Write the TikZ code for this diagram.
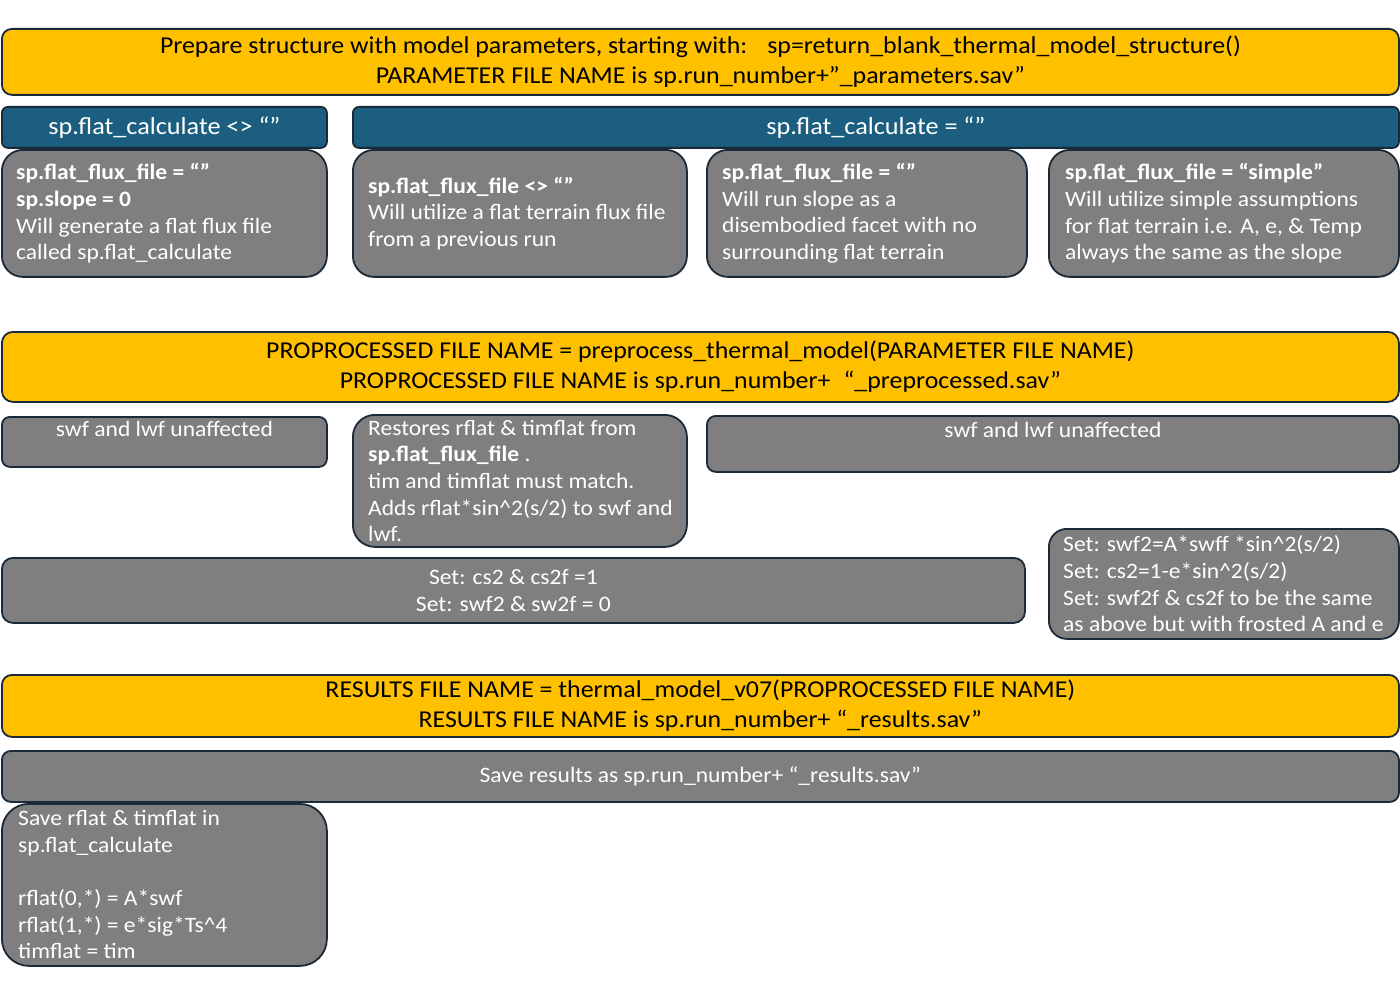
\documentclass[tikz,border=0pt]{standalone}
\usepackage{fontspec}
\setmainfont{Carlito}[FakeStretch=1.07]
\definecolor{ylw}{HTML}{FFC000}
\definecolor{blu}{HTML}{1B5E80}
\definecolor{gry}{HTML}{7F7F7F}
\definecolor{bordc}{HTML}{1A2A38}
\tikzset{
  panel/.style={draw=bordc, line width=1.8pt, rounded corners=#1, inner sep=0pt, anchor=north west},
  panel/.default=10pt,
  ybox/.style={panel=#1, fill=ylw},
  ybox/.default=10pt,
  bbox/.style={panel=6pt, fill=blu},
  gbox/.style={panel=#1, fill=gry},
  gbox/.default=10pt,
  ytxt/.style={font=\fontsize{24.2}{30}\selectfont, text=black, align=center, inner sep=0pt},
  btxt/.style={font=\fontsize{24.5}{30}\selectfont, text=white, align=center, inner sep=0pt},
  gtxt/.style={font=\fontsize{22}{26.6}\selectfont, text=white, align=left, inner sep=0pt},
  gctxt/.style={font=\fontsize{22}{26.6}\selectfont, text=white, align=center, inner sep=0pt},
}
\begin{document}
\begin{tikzpicture}[x=1pt,y=-1pt]
\useasboundingbox[fill=white] (0,0) rectangle (1400,1000);
% row 1
\node[ybox, minimum width=1397pt, minimum height=66pt] (y1) at (1,28) {};
\node[ytxt] (y1t) at (y1.center) {Prepare structure with model parameters, starting with:\hspace{0.5em} sp=return\_blank\_thermal\_model\_structure()\\PARAMETER FILE NAME is sp.run\_number+”\_parameters.sav”};
% blue headers
\node[bbox, minimum width=325pt, minimum height=41pt] (b1) at (1,106) {};
\node[btxt] (b1t) at (b1.center) {sp.flat\_calculate <> “”};
\node[bbox, minimum width=1046pt, minimum height=41pt] (b2) at (352,106) {};
\node[btxt] (b2t) at (b2.center) {sp.flat\_calculate = “”};
% gray row
\node[gbox=21pt, minimum width=325pt, minimum height=127pt] (gA) at (1,149) {};
\node[gtxt, anchor=west] (gAt) at ([xshift=15pt]gA.west) {\textbf{sp.flat\_flux\_file = “”}\\\textbf{sp.slope = 0}\\Will generate a flat flux file\\called sp.flat\_calculate};
\node[gbox=21pt, minimum width=334pt, minimum height=127pt] (gB) at (352,149) {};
\node[gtxt, anchor=west] (gBt) at ([xshift=16pt]gB.west) {\textbf{sp.flat\_flux\_file <> “”}\\Will utilize a flat terrain flux file\\from a previous run};
\node[gbox=21pt, minimum width=320pt, minimum height=127pt] (gC) at (706,149) {};
\node[gtxt, anchor=west] (gCt) at ([xshift=16pt]gC.west) {\textbf{sp.flat\_flux\_file = “”}\\Will run slope as a\\disembodied facet with no\\surrounding flat terrain};
\node[gbox=21pt, minimum width=350pt, minimum height=127pt] (gD) at (1048,149) {};
\node[gtxt, anchor=west] (gDt) at ([xshift=17pt]gD.west) {\textbf{sp.flat\_flux\_file = “simple”}\\Will utilize simple assumptions\\for flat terrain i.e. A, e, \& Temp\\always the same as the slope};
% row 2
\node[ybox=11pt, minimum width=1397pt, minimum height=70pt] (y2) at (1,331) {};
\node[ytxt] (y2t) at (y2.center) {PROPROCESSED FILE NAME = preprocess\_thermal\_model(PARAMETER FILE NAME)\\PROPROCESSED FILE NAME is sp.run\_number+\hspace{0.3em} “\_preprocessed.sav”};
\node[gbox=8pt, minimum width=325pt, minimum height=50pt] (g6) at (1,416) {};
\node[gctxt, anchor=center] (g6t) at ([yshift=-13pt]g6.north) {swf and lwf unaffected};
\node[gbox=22pt, minimum width=334pt, minimum height=132pt] (g7) at (352,414) {};
\node[gtxt, anchor=west] (g7t) at ([xshift=16pt]g7.west) {Restores rflat \& timflat from\\\textbf{sp.flat\_flux\_file} .\\tim and timflat must match.\\Adds rflat*sin\textasciicircum2(s/2) to swf and\\lwf.};
\node[gbox=9pt, minimum width=692pt, minimum height=56pt] (g8) at (706,415) {};
\node[gctxt, anchor=center] (g8t) at ([yshift=-15pt]g8.north) {swf and lwf unaffected};
\node[gbox=11pt, minimum width=1023pt, minimum height=65pt] (g9) at (1,557) {};
\node[gctxt] (g9t) at (g9.center) {Set: cs2 \& cs2f =1\\Set: swf2 \& sw2f = 0};
\node[gbox=18pt, minimum width=350pt, minimum height=110pt] (g10) at (1048,528) {};
\node[gtxt, anchor=west] (g10t) at ([xshift=15pt]g10.west) {Set: swf2=A*swff *sin\textasciicircum2(s/2)\\Set: cs2=1-e*sin\textasciicircum2(s/2)\\Set: swf2f \& cs2f to be the same\\as above but with frosted A and e};
% row 3
\node[ybox=10pt, minimum width=1397pt, minimum height=62pt] (y3) at (1,674) {};
\node[ytxt] (y3t) at (y3.center) {RESULTS FILE NAME = thermal\_model\_v07(PROPROCESSED FILE NAME)\\RESULTS FILE NAME is sp.run\_number+ “\_results.sav”};
\node[gbox=9pt, minimum width=1397pt, minimum height=51pt] (g12) at (1,750) {};
\node[gctxt] (g12t) at (g12.center) {Save results as sp.run\_number+ “\_results.sav”};
\node[gbox=27pt, minimum width=325pt, minimum height=162pt] (g13) at (1,803) {};
\node[gtxt, anchor=west] (g13t) at ([xshift=17pt]g13.west) {Save rflat \& timflat in\\sp.flat\_calculate\\[26.6pt]rflat(0,*) = A*swf\\rflat(1,*) = e*sig*Ts\textasciicircum4\\timflat = tim};
\end{tikzpicture}
\end{document}
